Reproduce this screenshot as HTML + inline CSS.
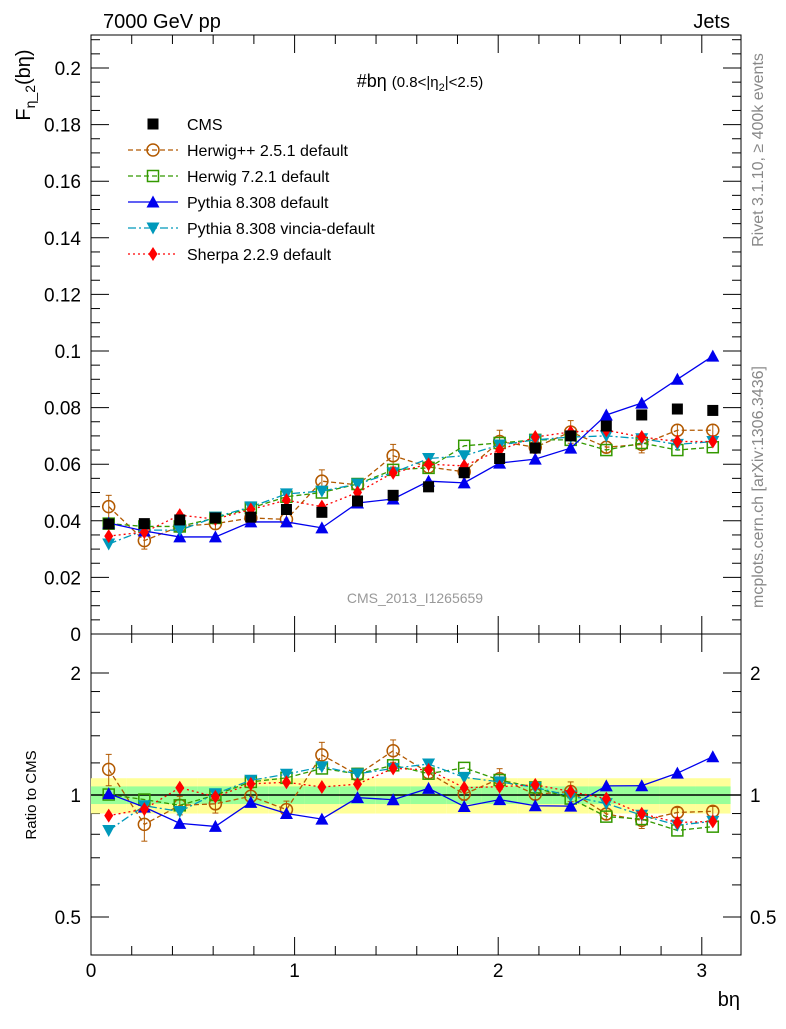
<!DOCTYPE html>
<html><head><meta charset="utf-8"><style>
body{margin:0;background:#fff;font-family:"Liberation Sans",sans-serif}
svg text{font-family:"Liberation Sans","DejaVu Sans",sans-serif}
</style></head><body>
<svg id="c" width="786" height="1024" xmlns="http://www.w3.org/2000/svg"></svg>
<script>
const binCenters=[0.087,0.262,0.436,0.611,0.785,0.960,1.134,1.309,1.484,1.658,1.833,2.007,2.182,2.356,2.531,2.705,2.880,3.054];
const cms=[0.0389,0.039,0.0403,0.041,0.0413,0.044,0.043,0.047,0.049,0.052,0.057,0.062,0.0657,0.070,0.0735,0.0774,0.0795,0.079];
const herwigpp=[0.045,0.033,0.038,0.039,0.041,0.0405,0.054,0.0527,0.063,0.059,0.0573,0.068,0.066,0.0714,0.066,0.067,0.072,0.072];
const herwig7=[0.039,0.038,0.038,0.041,0.0445,0.0485,0.050,0.053,0.058,0.0587,0.0665,0.0675,0.0686,0.0686,0.065,0.0675,0.065,0.066];
const pythia=[0.0392,0.0364,0.0343,0.0343,0.0396,0.0396,0.0375,0.0463,0.0477,0.054,0.0534,0.0604,0.0618,0.0657,0.0774,0.0816,0.090,0.0982];
const vincia=[0.0318,0.0367,0.0367,0.0413,0.0449,0.0495,0.0505,0.053,0.057,0.062,0.063,0.0668,0.0686,0.0696,0.070,0.069,0.067,0.068];
const sherpa=[0.0346,0.036,0.042,0.0406,0.044,0.0473,0.045,0.050,0.057,0.060,0.0594,0.065,0.0696,0.0714,0.072,0.0696,0.068,0.068];
const herwigppErr=[0.004,0.003,0.002,0.002,0.002,0.002,0.004,0.002,0.004,0.002,0.002,0.004,0.002,0.004,0.002,0.003,0.002,0.002];
const bandOuter=[0.1,0.1,0.1,0.1,0.1,0.1,0.1,0.1,0.1,0.1,0.1,0.1,0.1,0.1,0.1,0.1,0.1,0.1];
const bandInner=[0.05,0.05,0.05,0.05,0.05,0.05,0.05,0.05,0.05,0.05,0.05,0.05,0.05,0.05,0.05,0.05,0.05,0.05];
const mainTicks=[0,0.02,0.04,0.06,0.08,0.1,0.12,0.14,0.16,0.18,0.2];
const xTicks=[0,1,2,3];
const ratioTicks=[0.5,1,2];

const S=document.getElementById('c'),NS='http://www.w3.org/2000/svg';
function el(t,a,p){const e=document.createElementNS(NS,t);for(const k in a)e.setAttribute(k,a[k]);(p||S).appendChild(e);return e;}
const X0=91,X1=741,MT=35,MB=634,RB=955;
const xs=v=>X0+v*203.6;
const ym=v=>634-v*2830;
const yr=v=>795-Math.log2(v)*122;
const bw=0.1745;
let f=el('rect',{x:X0,y:MT,width:X1-X0,height:MB-MT,fill:'none',stroke:'#000','stroke-width':1});

f=el('rect',{x:X0,y:MB,width:X1-X0,height:RB-MB,fill:'none',stroke:'#000','stroke-width':1});

for(let v=0;v<=0.2101;v+=0.005){const y=ym(v);if(y<MT)continue;const maj=Math.abs(v/0.02-Math.round(v/0.02))<1e-6;const L=maj?18:9;
el('line',{x1:X0,x2:X0+L,y1:y,y2:y,stroke:'#000'});el('line',{x1:X1,x2:X1-L,y1:y,y2:y,stroke:'#000'});}
mainTicks.forEach(v=>{const t=el('text',{x:81,y:ym(v)+7,'text-anchor':'end','font-size':19});t.textContent=v===0?'0':String(+v.toFixed(2));
});
for(let v=0;v<=3.2;v+=0.2){const x=xs(v);if(x>X1)continue;const maj=Math.abs(v-Math.round(v))<1e-6;const L=maj?18:9;
el('line',{x1:x,x2:x,y1:MB,y2:MB-L,stroke:'#000'});el('line',{x1:x,x2:x,y1:MT,y2:MT+L,stroke:'#000'});
el('line',{x1:x,x2:x,y1:RB,y2:RB-L,stroke:'#000'});el('line',{x1:x,x2:x,y1:MB,y2:MB+L,stroke:'#000'});}
xTicks.forEach(v=>{const t=el('text',{x:xs(v),y:977,'text-anchor':'middle','font-size':19});t.textContent=v;
});
[0.4,0.5,0.6,0.7,0.8,0.9,1,2].forEach(v=>{const y=yr(v);if(y>RB||y<MB)return;const maj=ratioTicks.includes(v);const L=maj?18:9;
el('line',{x1:X0,x2:X0+L,y1:y,y2:y,stroke:'#000'});el('line',{x1:X1,x2:X1-L,y1:y,y2:y,stroke:'#000'});});
for(let v=1.2;v<2;v+=0.2){const y=yr(v);el('line',{x1:X0,x2:X0+9,y1:y,y2:y,stroke:'#000'});el('line',{x1:X1,x2:X1-9,y1:y,y2:y,stroke:'#000'});}
ratioTicks.forEach(v=>{let t=el('text',{x:81,y:yr(v)+7,'text-anchor':'end','font-size':19});t.textContent=v;

t=el('text',{x:750,y:yr(v)+7,'font-size':19});t.textContent=v;});
binCenters.forEach((c,i)=>{const x=xs(c-bw/2),w=xs(c+bw/2)-x;
let r=el('rect',{x:x,y:yr(1+bandOuter[i]),width:w,height:yr(1-bandOuter[i])-yr(1+bandOuter[i]),fill:'#ffff99'});

r=el('rect',{x:x,y:yr(1+bandInner[i]),width:w,height:yr(1-bandInner[i])-yr(1+bandInner[i]),fill:'#99ff99'});
});
el('line',{x1:X0,x2:X1,y1:yr(1),y2:yr(1),stroke:'#000','stroke-width':1.5});
function marker(kind,x,y,col,g){
 if(kind==='sq')return el('rect',{x:x-5.5,y:y-5.5,width:11,height:11,fill:'#000'},g);
 if(kind==='osq')return el('rect',{x:x-5.5,y:y-5.5,width:11,height:11,fill:'none',stroke:col,'stroke-width':1.5},g);
 if(kind==='oc')return el('circle',{cx:x,cy:y,r:6,fill:'none',stroke:col,'stroke-width':1.5},g);
 if(kind==='tu')return el('polygon',{points:`${x},${y-6.5} ${x-6.5},${y+5.5} ${x+6.5},${y+5.5}`,fill:col},g);
 if(kind==='td')return el('polygon',{points:`${x},${y+6.5} ${x-6.5},${y-5.5} ${x+6.5},${y-5.5}`,fill:col},g);
 if(kind==='dm')return el('polygon',{points:`${x},${y-7} ${x-4.5},${y} ${x},${y+7} ${x+4.5},${y}`,fill:col},g);
}
const series=[
 {name:'herwigpp',d:herwigpp,col:'#b25900',dash:'5,3',m:'oc',err:herwigppErr},
 {name:'herwig7',d:herwig7,col:'#339900',dash:'5,3',m:'osq'},
 {name:'pythia',d:pythia,col:'#0000ee',dash:'',m:'tu'},
 {name:'vincia',d:vincia,col:'#0099bb',dash:'8,3,2,3',m:'td'},
 {name:'sherpa',d:sherpa,col:'#ff0000',dash:'2,3',m:'dm'}];
series.forEach(s=>{
 [['main',ym,s.d],['ratio',yr,s.d.map((v,i)=>v/cms[i])]].forEach(([p,yf,vals])=>{
  const g=el('g',{});
  const pts=binCenters.map((c,i)=>xs(c)+','+yf(vals[i])).join(' ');
  el('polyline',{points:pts,fill:'none',stroke:s.col,'stroke-width':1.3,'stroke-dasharray':s.dash},g);
  binCenters.forEach((c,i)=>{const x=xs(c),y=yf(vals[i]);
   if(s.err){const e=p==='main'?s.err[i]:s.err[i]/cms[i];const y1=yf(vals[i]+e),y2=yf(Math.max(vals[i]-e,0.01));
    el('line',{x1:x,x2:x,y1:y1,y2:y2,stroke:s.col},g);el('line',{x1:x-3,x2:x+3,y1:y1,y2:y1,stroke:s.col},g);el('line',{x1:x-3,x2:x+3,y1:y2,y2:y2,stroke:s.col},g);}
   const m=marker(s.m,x,y,s.col,g);});
 });
});
{const g=el('g',{});
binCenters.forEach((c,i)=>{const m=marker('sq',xs(c),ym(cms[i]),'#000',g);});}
const leg=[['CMS','#000','','sq'],['Herwig++ 2.5.1 default','#b25900','5,3','oc'],['Herwig 7.2.1 default','#339900','5,3','osq'],
['Pythia 8.308 default','#0000ee','','tu'],['Pythia 8.308 vincia-default','#0099bb','8,3,2,3','td'],['Sherpa 2.2.9 default','#ff0000','2,3','dm']];
leg.forEach((l,i)=>{const y=124+i*26;const g=el('g',{});
 if(i>0)el('line',{x1:128,x2:178,y1:y,y2:y,stroke:l[1],'stroke-width':1.3,'stroke-dasharray':l[2]},g);
 marker(l[3],153,y,l[1],g);const t=el('text',{x:187,y:y+6,'font-size':16},g);t.textContent=l[0];});
function txt(x,y,s,a,name,extra){const t=el('text',Object.assign({x:x,y:y,'font-size':s,'text-anchor':a||'start'},extra||{}));return t;}
txt(103,28,20,'start','header-energy').textContent='7000 GeV pp';
txt(730,28,20,'end','header-process').textContent='Jets';
let t=txt(420,87,18,'middle','plot-title');t.innerHTML='#bη <tspan font-size="15">(0.8&lt;|η</tspan><tspan font-size="11" dy="4">2</tspan><tspan font-size="15" dy="-4">|&lt;2.5)</tspan>';
txt(415,603,14,'middle','analysis-id',{fill:'#999'}).textContent='CMS_2013_I1265659';
txt(763,150,16,'middle','rivet-label',{fill:'#888',transform:'rotate(-90 763 150)'}).textContent='Rivet 3.1.10, ≥ 400k events';
txt(763,487,16,'middle','mcplots-label',{fill:'#888',transform:'rotate(-90 763 487)'}).textContent='mcplots.cern.ch [arXiv:1306.3436]';
t=txt(30,85,20,'middle','y-axis-title',{transform:'rotate(-90 30 85)'});t.innerHTML='F<tspan font-size="14" dy="5">η_2</tspan><tspan dy="-5">(bη)</tspan>';
txt(36,795,15,'middle','ratio-axis-title',{transform:'rotate(-90 36 795)'}).textContent='Ratio to CMS';
txt(740,1006,20,'end','x-axis-title').textContent='bη';
</script></body></html>
